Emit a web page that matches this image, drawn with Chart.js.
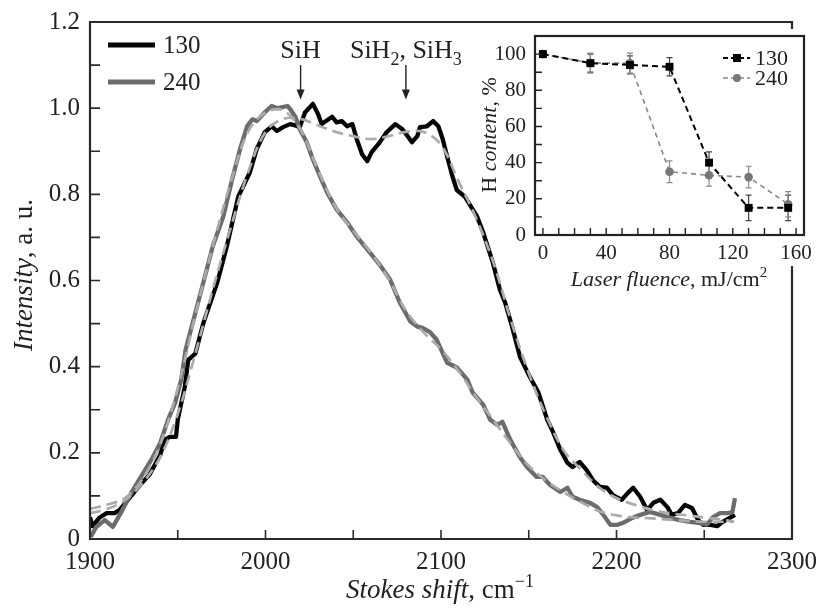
<!DOCTYPE html>
<html><head><meta charset="utf-8">
<script src="https://cdn.jsdelivr.net/npm/chart.js@4.4.1/dist/chart.umd.min.js"></script>
<style>
html,body{margin:0;padding:0;background:#fff;}
#wrap{position:relative;width:821px;height:610px;overflow:hidden;background:#fff;}
#main{position:absolute;left:0;top:0;}
#inset{position:absolute;left:470px;top:28px;}
</style></head><body>
<div id="wrap">
<canvas id="main" width="821" height="610"></canvas>
<canvas id="inset" width="345" height="275"></canvas>
</div>
<script>
// ---------------- DATA ----------------
const seriesLabels = ['130', '240'];

// Raman spectra [Stokes shift cm^-1, intensity a.u.]
const spectrum130 = [
 [1900,0.05],[1901.5,0.03],[1905.5,0.05],[1909.5,0.06],[1914,0.06],[1917,0.068],[1921.5,0.09],[1928.5,0.125],
 [1934,0.15],[1940,0.195],[1942.5,0.23],[1945.5,0.237],[1949,0.237],[1950,0.277],[1954,0.353],[1956,0.416],
 [1960,0.43],[1964.5,0.5],[1972.5,0.595],[1978,0.68],[1984.5,0.795],[1991,0.85],[1995,0.905],[1999.5,0.944],
 [2003.5,0.958],[2006.5,0.947],[2010,0.956],[2014,0.963],[2017,0.96],[2019.5,0.956],[2022.5,0.99],[2027,1.01],
 [2030,0.986],[2032,0.963],[2038,0.98],[2040.5,0.967],[2043.5,0.97],[2046.5,0.958],[2049.5,0.963],[2052,0.928],
 [2055,0.893],[2058,0.877],[2060.5,0.898],[2065,0.92],[2069,0.944],[2074,0.963],[2078,0.951],[2081,0.935],
 [2083.5,0.921],[2086.5,0.935],[2088,0.956],[2092,0.958],[2095.5,0.97],[2098.5,0.958],[2101,0.928],[2103.5,0.888],
 [2106.5,0.842],[2109,0.81],[2113.5,0.795],[2120.5,0.749],[2124,0.712],[2129.5,0.642],[2133.5,0.579],[2136.5,0.549],
 [2140.5,0.493],[2145,0.423],[2150.5,0.377],[2155.5,0.34],[2160.5,0.277],[2164,0.247],[2168,0.207],[2172,0.177],
 [2175,0.167],[2179,0.179],[2183,0.16],[2186.5,0.137],[2190.5,0.121],[2194.5,0.119],[2198,0.102],[2203,0.091],
 [2206.5,0.107],[2209.5,0.119],[2213.5,0.098],[2217.5,0.067],[2221,0.084],[2225,0.091],[2229,0.074],[2231.5,0.056],
 [2235,0.06],[2239,0.079],[2243,0.072],[2246.5,0.044],[2249.5,0.033],[2253.5,0.033],[2257.5,0.03],[2260.5,0.04],
 [2264.5,0.049],[2267.5,0.056]
];
const spectrum240 = [
 [1900.5,0.005],[1903.5,0.028],[1908.5,0.044],[1913,0.028],[1917.5,0.06],[1923.5,0.107],[1929,0.144],[1935,0.184],
 [1940,0.223],[1944.5,0.277],[1948.5,0.316],[1952,0.37],[1954.5,0.44],[1957.5,0.486],[1962.5,0.563],[1970,0.68],
 [1976,0.749],[1981,0.835],[1985.5,0.905],[1989.5,0.958],[1992.5,0.974],[1995,0.97],[1999.5,0.99],[2003.5,1.005],
 [2007,1.0],[2012.5,1.005],[2014,0.998],[2017,0.98],[2019.5,0.951],[2023.5,0.921],[2027,0.881],[2031,0.842],
 [2035,0.805],[2040.5,0.765],[2046.5,0.735],[2052,0.702],[2058,0.672],[2065,0.637],[2071,0.602],[2076.5,0.549],
 [2082.5,0.505],[2086.5,0.493],[2089.5,0.49],[2093.5,0.481],[2097.5,0.463],[2103.5,0.409],[2109,0.398],[2115,0.37],
 [2118,0.34],[2124,0.312],[2128,0.277],[2132,0.265],[2135,0.272],[2139.5,0.23],[2145,0.19],[2149,0.167],
 [2154.5,0.144],[2158,0.144],[2162,0.126],[2168,0.109],[2172,0.119],[2175,0.098],[2179,0.091],[2185,0.084],
 [2189,0.074],[2192.5,0.056],[2196.5,0.033],[2200.5,0.033],[2203.5,0.037],[2209,0.049],[2213.5,0.056],[2219,0.063],
 [2225,0.056],[2230.5,0.049],[2236,0.044],[2242,0.04],[2247.5,0.037],[2251.5,0.033],[2255,0.051],[2259,0.06],
 [2263,0.06],[2266,0.062],[2267.5,0.095]
];
// fitted (dashed) curves
const fit130 = [
 [1900,0.06],[1910,0.07],[1920,0.09],[1930,0.13],[1940,0.19],[1950,0.29],[1960,0.43],[1970,0.58],[1980,0.72],
 [1990,0.85],[2000,0.945],[2010,0.975],[2020,0.975],[2030,0.96],[2040,0.945],[2050,0.935],[2060,0.928],[2070,0.935],
 [2080,0.945],[2090,0.945],[2100,0.915],[2110,0.83],[2120,0.745],[2130,0.64],[2140,0.505],[2150,0.385],[2160,0.285],
 [2170,0.205],[2180,0.16],[2190,0.12],[2200,0.095],[2210,0.08],[2220,0.068],[2230,0.06],[2240,0.055],[2250,0.05],
 [2260,0.045],[2267,0.04]
];
const fit240 = [
 [1900,0.07],[1910,0.08],[1920,0.095],[1930,0.14],[1940,0.22],[1950,0.35],[1960,0.52],[1970,0.68],[1980,0.825],
 [1990,0.945],[2000,0.99],[2010,0.995],[2020,0.95],[2030,0.855],[2040,0.77],[2050,0.715],[2060,0.665],[2070,0.605],
 [2080,0.53],[2090,0.48],[2100,0.44],[2110,0.39],[2120,0.33],[2130,0.275],[2140,0.22],[2150,0.17],[2160,0.135],
 [2170,0.108],[2180,0.085],[2190,0.065],[2200,0.055],[2210,0.05],[2220,0.048],[2230,0.045],[2240,0.042],[2250,0.04],
 [2260,0.04],[2267,0.04]
];
const xTicksMain = [1900, 2000, 2100, 2200, 2300];
const yTicksMain = [0, 0.2, 0.4, 0.6, 0.8, 1.0, 1.2];
const peakPositions = [2020, 2080];
// text parts: [text, style]  style 0 normal, 1 italic, 2 subscript, 3 superscript
const peakLabels = [ [['SiH',0]], [['SiH',0],['2',2],[', SiH',0],['3',2]] ];

// inset: H content vs laser fluence
const fluence      = [0, 30, 55, 80, 105, 130, 155];
const hContent130  = [100, 95, 94, 93, 40, 15, 15];
const hError130    = [1, 5, 5, 5, 6, 7, 7];
const hContent240  = [100, 95, 95, 35, 33, 32, 17];
const hError240    = [1, 5.5, 5.5, 6, 6, 6, 7];
const xTicksInset  = [0, 40, 80, 120, 160];
const yTicksInset  = [0, 20, 40, 60, 80, 100];

// ---------------- RENDER ----------------
const SERIF = '"Liberation Serif", "Times New Roman", serif';
const INK = '#222';
Chart.defaults.font.family = SERIF;
Chart.defaults.color = INK;

const toXY = a => a.map(p => ({x: p[0], y: p[1]}));
const noPad = s => { s.paddingTop = 0; s.paddingBottom = 0; s.paddingLeft = 0; s.paddingRight = 0; };

function drawParts(ctx, parts, x, y, size, align) {
  const fontFor = s => (s === 1 ? 'italic ' : '') + (s >= 2 ? Math.round(size*0.68) : size) + 'px ' + SERIF;
  let w = 0;
  parts.forEach(p => { ctx.font = fontFor(p[1]); w += ctx.measureText(p[0]).width; });
  let cx = align === 'center' ? x - w/2 : x;
  ctx.textAlign = 'left';
  parts.forEach(p => {
    ctx.font = fontFor(p[1]);
    const dy = p[1] === 2 ? size*0.28 : (p[1] === 3 ? -size*0.4 : 0);
    ctx.fillText(p[0], cx, y + dy);
    cx += ctx.measureText(p[0]).width;
  });
}

const mainDecor = {
  id: 'mainDecor',
  afterDraw(chart) {
    const {ctx, chartArea: a, scales: {x, y}} = chart;
    ctx.save();
    // frame (right side interrupted by the inset)
    ctx.strokeStyle = '#2a2a2a'; ctx.lineWidth = 2.2; ctx.lineCap = 'square';
    ctx.beginPath();
    ctx.moveTo(a.left, a.top); ctx.lineTo(a.left, a.bottom); ctx.lineTo(a.right, a.bottom); ctx.lineTo(a.right, 267);
    ctx.moveTo(a.left, a.top); ctx.lineTo(a.right, a.top); ctx.lineTo(a.right, 28);
    ctx.stroke();
    // inward ticks
    ctx.lineWidth = 1.6; ctx.lineCap = 'butt';
    ctx.beginPath();
    for (let v = 1950; v < 2300; v += 50) { const px = x.getPixelForValue(v); ctx.moveTo(px, a.bottom); ctx.lineTo(px, a.bottom - 9); }
    for (let i = 1; i < 12; i++) { const py = y.getPixelForValue(i / 10); ctx.moveTo(a.left, py); ctx.lineTo(a.left + 10, py); }
    ctx.stroke();
    // legend
    const ds = chart.data.datasets.filter(d => seriesLabels.includes(d.label));
    ds.forEach((d, i) => {
      const ly = 45 + i * 37;
      ctx.strokeStyle = d.borderColor; ctx.lineWidth = 5;
      ctx.beginPath(); ctx.moveTo(108, ly); ctx.lineTo(155, ly); ctx.stroke();
      ctx.fillStyle = INK; ctx.font = '25px ' + SERIF; ctx.textBaseline = 'middle'; ctx.textAlign = 'left';
      ctx.fillText(d.label, 163, ly + 1);
    });
    // peak annotations
    ctx.textBaseline = 'alphabetic'; ctx.fillStyle = INK; ctx.strokeStyle = INK;
    peakPositions.forEach((pos, i) => {
      const px = x.getPixelForValue(pos);
      const y0 = y.getPixelForValue(1.1), y1 = y.getPixelForValue(1.02);
      ctx.lineWidth = 1.4;
      ctx.beginPath(); ctx.moveTo(px, y0); ctx.lineTo(px, y1 - 9); ctx.stroke();
      ctx.beginPath(); ctx.moveTo(px - 4, y1 - 10); ctx.lineTo(px + 4, y1 - 10); ctx.lineTo(px, y1); ctx.closePath(); ctx.fill();
      drawParts(ctx, peakLabels[i], px, y.getPixelForValue(1.117), 26, 'center');
    });
    // axis titles
    drawParts(ctx, [['Stokes shift',1],[', cm',0],['\u22121',3]], 440, 598, 27, 'center');
    ctx.save();
    ctx.translate(32, 275); ctx.rotate(-Math.PI / 2);
    drawParts(ctx, [['Intensity',1],[', a. u.',0]], 0, 0, 27, 'center');
    ctx.restore();
    ctx.restore();
  }
};

new Chart(document.getElementById('main'), {
  type: 'line',
  data: { datasets: [
    { label: 'fit 130', data: toXY(fit130), borderColor: '#ababab', borderWidth: 2.7, borderDash: [11, 6], pointRadius: 0, tension: 0.35, order: 0 },
    { label: 'fit 240', data: toXY(fit240), borderColor: '#ababab', borderWidth: 2.7, borderDash: [11, 6], pointRadius: 0, tension: 0.35, order: 0 },
    { label: seriesLabels[0], data: toXY(spectrum130), borderColor: '#050505', borderWidth: 4.3, pointRadius: 0, tension: 0, borderJoinStyle: 'round', order: 2 },
    { label: seriesLabels[1], data: toXY(spectrum240), borderColor: '#6c6c6c', borderWidth: 4.3, pointRadius: 0, tension: 0, borderJoinStyle: 'round', order: 1 }
  ]},
  options: {
    responsive: false, animation: false, devicePixelRatio: 1,
    layout: { padding: { left: 0, top: 22, right: 29, bottom: 0 } },
    plugins: { legend: { display: false }, tooltip: { enabled: false } },
    scales: {
      x: { type: 'linear', min: 1900, max: 2300,
        afterFit(s) { s.height = 71; noPad(s); },
        afterBuildTicks(s) { s.ticks = xTicksMain.map(v => ({ value: v })); },
        grid: { display: false, drawTicks: false }, border: { display: false },
        ticks: { padding: 8, font: { size: 25 }, color: INK, maxRotation: 0, autoSkip: false, callback: v => String(v) } },
      y: { type: 'linear', min: 0, max: 1.2,
        afterFit(s) { s.width = 90; noPad(s); },
        afterBuildTicks(s) { s.ticks = yTicksMain.map(v => ({ value: v })); },
        grid: { display: false, drawTicks: false }, border: { display: false },
        ticks: { padding: 10, font: { size: 25 }, color: INK, autoSkip: false, callback: v => v === 0 ? '0' : v.toFixed(1) } }
    }
  },
  plugins: [mainDecor]
});

// ---------- inset ----------
const insetDecor = {
  id: 'insetDecor',
  beforeDraw(chart) {
    const {ctx, chartArea: a} = chart;
    ctx.save(); ctx.fillStyle = '#fff'; ctx.fillRect(a.left, a.top, a.right - a.left, a.bottom - a.top); ctx.restore();
  },
  beforeDatasetsDraw(chart) {
    const {ctx, scales: {y}} = chart;
    ctx.save();
    chart.data.datasets.forEach((d, di) => {
      const meta = chart.getDatasetMeta(di);
      ctx.strokeStyle = d.errColor; ctx.lineWidth = 1.2;
      meta.data.forEach((pt, i) => {
        const v = d.data[i].y, e = d.errors[i];
        const yt = y.getPixelForValue(v + e), yb = y.getPixelForValue(v - e);
        ctx.beginPath();
        ctx.moveTo(pt.x, yt); ctx.lineTo(pt.x, yb);
        ctx.moveTo(pt.x - 3, yt); ctx.lineTo(pt.x + 3, yt);
        ctx.moveTo(pt.x - 3, yb); ctx.lineTo(pt.x + 3, yb);
        ctx.stroke();
      });
    });
    ctx.restore();
  },
  afterDraw(chart) {
    const {ctx, chartArea: a, scales: {x, y}} = chart;
    ctx.save();
    ctx.strokeStyle = '#222'; ctx.lineWidth = 2.2;
    ctx.strokeRect(a.left, a.top, a.right - a.left, a.bottom - a.top);
    ctx.lineWidth = 1.4;
    ctx.beginPath();
    for (let v = 0; v <= 160; v += 10) { const px = x.getPixelForValue(v); ctx.moveTo(px, a.bottom); ctx.lineTo(px, a.bottom - 7); }
    for (let v = 10; v <= 100; v += 10) { const py = y.getPixelForValue(v); ctx.moveTo(a.left, py); ctx.lineTo(a.left + 7, py); }
    ctx.stroke();
    // legend
    chart.data.datasets.forEach((d, i) => {
      const ly = 30 + i * 20;
      ctx.strokeStyle = d.borderColor; ctx.lineWidth = d.borderWidth; ctx.setLineDash([5, 3]);
      ctx.beginPath(); ctx.moveTo(253, ly); ctx.lineTo(280, ly); ctx.stroke();
      ctx.setLineDash([]);
      ctx.fillStyle = d.backgroundColor;
      if (d.pointStyle === 'rect') ctx.fillRect(263, ly - 4, 8, 8);
      else { ctx.beginPath(); ctx.arc(267, ly, 4, 0, Math.PI * 2); ctx.fill(); }
      ctx.fillStyle = INK; ctx.font = '22px ' + SERIF; ctx.textBaseline = 'middle'; ctx.textAlign = 'left';
      ctx.fillText(d.label, 285, ly + 1);
    });
    ctx.textBaseline = 'alphabetic'; ctx.fillStyle = INK;
    drawParts(ctx, [['Laser fluence',1],[', mJ/cm',0],['2',3]], 199, 258, 22, 'center');
    ctx.save();
    ctx.translate(26, 107); ctx.rotate(-Math.PI / 2);
    drawParts(ctx, [['H ',0],['content',1],[', %',0]], 0, 0, 22, 'center');
    ctx.restore();
    ctx.restore();
  }
};

new Chart(document.getElementById('inset'), {
  type: 'line',
  data: { datasets: [
    { label: seriesLabels[0], data: fluence.map((f, i) => ({ x: f, y: hContent130[i] })), errors: hError130, errColor: '#444',
      borderColor: '#000', backgroundColor: '#000', borderWidth: 2, borderDash: [6, 4], tension: 0,
      pointStyle: 'rect', pointRadius: 5.6, pointBorderWidth: 0, pointBackgroundColor: '#000', order: 0 },
    { label: seriesLabels[1], data: fluence.map((f, i) => ({ x: f, y: hContent240[i] })), errors: hError240, errColor: '#8a8a8a',
      borderColor: '#888', backgroundColor: '#777', borderWidth: 1.6, borderDash: [5, 4], tension: 0,
      pointStyle: 'circle', pointRadius: 4.3, pointBorderWidth: 0, pointBackgroundColor: '#777', order: 1 }
  ]},
  options: {
    responsive: false, animation: false, devicePixelRatio: 1,
    layout: { padding: { left: 0, top: 8, right: 11, bottom: 0 } },
    plugins: { legend: { display: false }, tooltip: { enabled: false } },
    scales: {
      x: { type: 'linear', min: -5, max: 165,
        afterFit(s) { s.height = 68; noPad(s); },
        afterBuildTicks(s) { s.ticks = xTicksInset.map(v => ({ value: v })); },
        grid: { display: false, drawTicks: false }, border: { display: false },
        ticks: { padding: 6, font: { size: 21 }, color: INK, maxRotation: 0, autoSkip: false } },
      y: { type: 'linear', min: 0, max: 110,
        afterFit(s) { s.width = 65; noPad(s); },
        afterBuildTicks(s) { s.ticks = yTicksInset.map(v => ({ value: v })); },
        grid: { display: false, drawTicks: false }, border: { display: false },
        ticks: { padding: 9, font: { size: 21 }, color: INK, autoSkip: false } }
    }
  },
  plugins: [insetDecor]
});
</script>
</body></html>
